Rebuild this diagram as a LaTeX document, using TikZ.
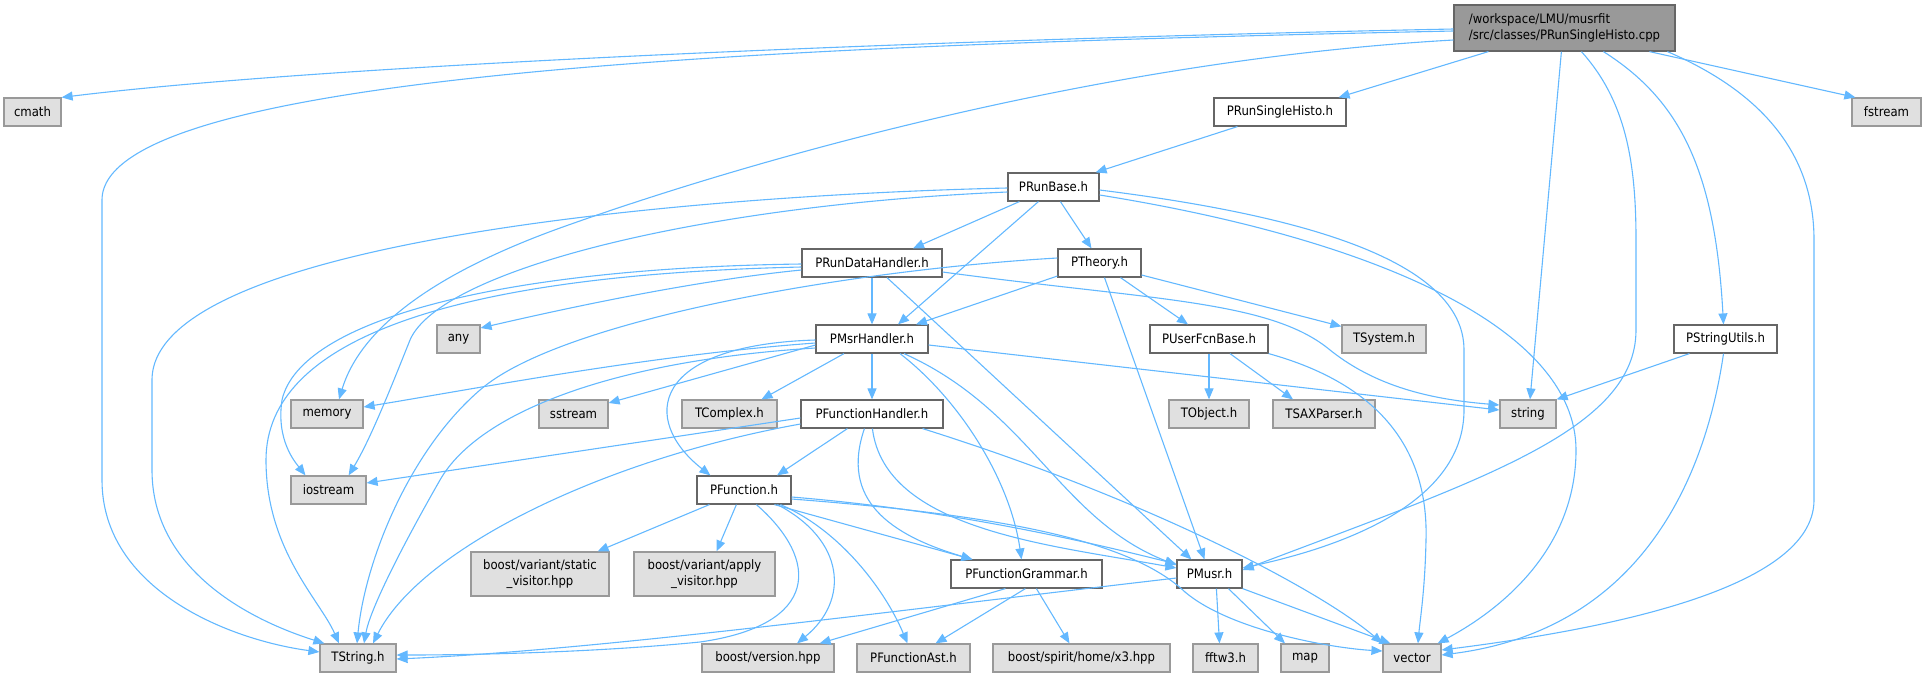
\documentclass[tikz,border=0pt]{standalone}
\usepackage{fontspec}
\setmainfont{DejaVu Sans Condensed}
\usetikzlibrary{arrows.meta}
\definecolor{edgeblue}{HTML}{63B8FF}
\definecolor{gfill}{HTML}{E0E0E0}
\definecolor{gline}{HTML}{999999}
\definecolor{dline}{HTML}{666666}
\definecolor{mfill}{HTML}{999999}
\tikzset{
  box/.style={draw, line width=1.2pt, minimum height=28pt, inner sep=0pt, font=\fontsize{13}{16}\selectfont, text=black, anchor=center},
  hdr/.style={box, fill=white, draw=dline},
  sys/.style={box, fill=gfill, draw=gline},
  cur/.style={box, fill=mfill, draw=dline},
  dep/.style={draw=edgeblue, line width=1.1pt, -{Triangle[length=11pt,width=9pt]}},
}
\begin{document}
\begin{tikzpicture}[x=1pt,y=-1pt]
\useasboundingbox (0,0) rectangle (1927,678);
% nodes
\node[cur, minimum width=221pt, minimum height=46pt, align=left] (main) at (1564.5,28) {/workspace/LMU/musrfit\\/src/classes/PRunSingleHisto.cpp};
\node[sys, minimum width=57pt] (cmath) at (32.5,112) {cmath};
\node[sys, minimum width=69pt] (fstream) at (1886.5,112) {fstream};
\node[hdr, minimum width=132pt] (rsh) at (1280,112) {PRunSingleHisto.h};
\node[hdr, minimum width=91pt] (rb) at (1053.5,187) {PRunBase.h};
\node[hdr, minimum width=140pt] (rdh) at (872,263) {PRunDataHandler.h};
\node[hdr, minimum width=83pt] (th) at (1099.5,263) {PTheory.h};
\node[sys, minimum width=43pt] (any) at (458.5,339) {any};
\node[hdr, minimum width=112pt] (msr) at (872,339) {PMsrHandler.h};
\node[hdr, minimum width=118pt] (ufb) at (1209,339) {PUserFcnBase.h};
\node[sys, minimum width=84pt] (tsys) at (1384,339) {TSystem.h};
\node[hdr, minimum width=103pt] (psu) at (1725.5,339) {PStringUtils.h};
\node[sys, minimum width=72pt] (memory) at (327,414) {memory};
\node[sys, minimum width=69pt] (sstream) at (573.5,414) {sstream};
\node[sys, minimum width=95pt] (tcx) at (729.5,414) {TComplex.h};
\node[hdr, minimum width=142pt] (pfh) at (872,414) {PFunctionHandler.h};
\node[sys, minimum width=80pt] (tobj) at (1209,414) {TObject.h};
\node[sys, minimum width=102pt] (tsax) at (1324,414) {TSAXParser.h};
\node[sys, minimum width=56pt] (string) at (1528,414) {string};
\node[sys, minimum width=75pt] (iostream) at (328.5,490) {iostream};
\node[hdr, minimum width=94pt] (pf) at (744,490) {PFunction.h};
\node[sys, minimum width=138pt, minimum height=44pt, align=center] (bsv) at (540,574) {boost/variant/static\\\_visitor.hpp};
\node[sys, minimum width=141pt, minimum height=44pt, align=center] (bav) at (704.5,574) {boost/variant/apply\\\_visitor.hpp};
\node[hdr, minimum width=151pt] (pfg) at (1026.5,574) {PFunctionGrammar.h};
\node[hdr, minimum width=65pt] (pmusr) at (1209.5,574) {PMusr.h};
\node[sys, minimum width=76pt] (tstr) at (358,658) {TString.h};
\node[sys, minimum width=132pt] (bver) at (768,658) {boost/version.hpp};
\node[sys, minimum width=113pt] (pfa) at (913.5,658) {PFunctionAst.h};
\node[sys, minimum width=177pt] (bsp) at (1081.5,658) {boost/spirit/home/x3.hpp};
\node[sys, minimum width=65pt] (fftw) at (1225.5,658) {fftw3.h};
\node[sys, minimum width=48pt] (map) at (1305,658) {map};
\node[sys, minimum width=58pt] (vector) at (1412,658) {vector};
% edges from main
\draw[dep] ([yshift=-1pt]main.west) .. controls (1000,38) and (350,62) .. (cmath.north east);
\draw[dep] ([yshift=-3pt]main.west) .. controls (800,45) and (102,70) .. (102,200) -- (102,480) .. controls (102,590) and (230,640) .. ([yshift=6pt]tstr.west);
\draw[dep] ([yshift=-12pt]main.west) .. controls (1100,60) and (750,160) .. (560,228) .. controls (430,275) and (360,330) .. ([xshift=12pt]memory.north);
\draw[dep] ([xshift=35pt]main.south west) -- ([xshift=-8pt]rsh.north east);
\draw[dep] ([xshift=108pt]main.south west) -- ([xshift=2pt]string.north);
\draw[dep] ([xshift=128pt]main.south west) .. controls (1625,100) and (1636,160) .. (1636,240) -- (1636,330) .. controls (1636,430) and (1480,480) .. ([yshift=4pt]pmusr.east);
\draw[dep] ([xshift=150pt]main.south west) .. controls (1680,100) and (1715,170) .. ([xshift=-2pt]psu.north);
\draw[dep] ([xshift=196pt]main.south west) -- ([xshift=4pt]fstream.north west);
\draw[dep] ([xshift=214pt]main.south west) .. controls (1780,100) and (1814,170) .. (1814,240) -- (1814,500) .. controls (1814,590) and (1600,630) .. ([yshift=8pt]vector.east);
% PRunSingleHisto
\draw[dep] ([xshift=24pt]rsh.south west) -- ([xshift=-4pt]rb.north east);
% PRunBase
\draw[dep] ([xshift=12pt]rb.south west) -- ([xshift=41pt]rdh.north);
\draw[dep] ([xshift=31pt]rb.south west) -- ([xshift=26pt]msr.north);
\draw[dep] ([xshift=53pt]rb.south west) -- ([xshift=-8pt]th.north);
\draw[dep] ([yshift=-1pt]rb.west) .. controls (700,195) and (152,240) .. (152,380) -- (152,470) .. controls (152,570) and (250,620) .. ([xshift=5pt]tstr.north west);
\draw[dep] ([yshift=-5pt]rb.west) .. controls (700,205) and (440,270) .. (410,340) .. controls (390,390) and (370,440) .. ([xshift=-18pt]iostream.north east);
\draw[dep] ([yshift=-3pt]rb.east) .. controls (1300,215) and (1464,260) .. (1464,350) -- (1464,410) .. controls (1464,500) and (1350,545) .. ([yshift=6pt]pmusr.east);
\draw[dep] ([yshift=-8pt]rb.east) .. controls (1380,240) and (1576,330) .. (1576,450) .. controls (1576,550) and (1500,610) .. ([xshift=-4pt]vector.north east);
% PRunDataHandler
\draw[dep] ([yshift=-7pt]rdh.west) .. controls (700,280) and (580,305) .. ([yshift=11pt]any.east);
\draw[dep] ([yshift=-1pt]rdh.west) .. controls (500,268) and (300,320) .. (282,400) .. controls (276,440) and (295,462) .. ([xshift=-23pt]iostream.north);
\draw[dep] ([yshift=-4pt]rdh.west) .. controls (450,275) and (266,340) .. (266,460) .. controls (266,550) and (320,600) .. ([xshift=-19pt]tstr.north);
\draw[dep] (rdh.south) -- (msr.north);
\draw[dep] ([xshift=15pt]rdh.south) -- ([xshift=15pt]pmusr.north west);
\draw[dep] ([yshift=-9pt]rdh.east) .. controls (1150,300) and (1270,300) .. (1330,350) .. controls (1380,390) and (1440,400) .. ([yshift=9pt]string.west);
% PTheory
\draw[dep] ([yshift=-13pt]th.west) -- ([xshift=44pt]msr.north);
\draw[dep] ([yshift=5pt]th.west) .. controls (850,270) and (560,320) .. (480,390) .. controls (410,450) and (365,560) .. ([xshift=-1pt]tstr.north);
\draw[dep] ([xshift=21pt]th.south) -- ([xshift=-21pt]ufb.north);
\draw[dep] ([yshift=-12pt]th.east) -- ([yshift=-2pt]tsys.north west);
\draw[dep] ([xshift=5pt]th.south) -- ([xshift=-5pt]pmusr.north);
% PMsrHandler
\draw[dep] ([yshift=-1pt]msr.west) .. controls (650,345) and (640,420) .. ([xshift=14pt]pf.north west);
\draw[dep] ([yshift=-4pt]msr.west) .. controls (650,355) and (480,388) .. ([yshift=7pt]memory.east);
\draw[dep] ([yshift=-6pt]msr.west) -- ([yshift=11pt]sstream.east);
\draw[dep] ([yshift=-9pt]msr.west) .. controls (620,360) and (480,410) .. (440,480) .. controls (400,550) and (370,610) .. ([xshift=6pt]tstr.north);
\draw[dep] ([xshift=-28pt]msr.south) -- ([xshift=32pt]tcx.north);
\draw[dep] (msr.south) -- (pfh.north);
\draw[dep] ([xshift=28pt]msr.south) .. controls (960,400) and (1010,480) .. ([xshift=-5pt]pfg.north);
\draw[dep] ([xshift=32pt]msr.south) .. controls (1030,410) and (1060,520) .. ([yshift=9pt]pmusr.west);
\draw[dep] ([yshift=-6pt]msr.east) -- ([yshift=4pt]string.west);
% PUserFcnBase
\draw[dep] (ufb.south) -- (tobj.north);
\draw[dep] ([xshift=21pt]ufb.south) -- ([xshift=-31pt]tsax.north);
\draw[dep] (ufb.south east) .. controls (1400,390) and (1428,470) .. (1426,540) .. controls (1425,590) and (1420,620) .. ([xshift=6pt]vector.north);
% PStringUtils
\draw[dep] ([xshift=16pt]psu.south west) -- (string.north east);
\draw[dep] ([xshift=-2pt]psu.south) .. controls (1705,480) and (1640,630) .. ([yshift=3pt]vector.east);
% PFunctionHandler
\draw[dep] ([yshift=-4pt]pfh.west) -- ([yshift=7pt]iostream.east);
\draw[dep] ([yshift=-10pt]pfh.west) .. controls (600,460) and (420,550) .. ([xshift=15pt]tstr.north);
\draw[dep] ([xshift=47pt]pfh.south west) -- ([xshift=33pt]pf.north);
\draw[dep] ([xshift=64pt]pfh.south west) .. controls (840,500) and (890,535) .. ([xshift=22pt]pfg.north west);
\draw[dep] ([xshift=72pt]pfh.south west) .. controls (885,530) and (1050,545) .. ([yshift=6pt]pmusr.west);
\draw[dep] ([xshift=-21pt]pfh.south east) .. controls (1150,500) and (1320,590) .. (vector.north west);
% PFunction
\draw[dep] ([xshift=13pt]pf.south west) -- ([xshift=-12pt]bsv.north east);
\draw[dep] ([xshift=40pt]pf.south west) -- ([xshift=12pt]bav.north);
\draw[dep] ([xshift=60pt]pf.south west) .. controls (820,560) and (820,625) .. (700,642) .. controls (600,652) and (480,655) .. ([yshift=3pt]tstr.east);
\draw[dep] ([xshift=81pt]pf.south west) .. controls (845,540) and (850,600) .. ([xshift=29pt]bver.north);
\draw[dep] ([xshift=84pt]pf.south west) .. controls (840,530) and (885,590) .. ([xshift=-6pt]pfa.north);
\draw[dep] ([xshift=78pt]pf.south west) -- ([xshift=22pt]pfg.north west);
\draw[dep] ([yshift=-7pt]pf.east) .. controls (950,510) and (1080,540) .. ([yshift=10pt]pmusr.west);
\draw[dep] ([yshift=-9pt]pf.east) .. controls (1000,515) and (1130,540) .. (1185,592) .. controls (1230,630) and (1330,648) .. ([yshift=7pt]vector.west);
% PFunctionGrammar
\draw[dep] ([xshift=55pt]pfg.south west) -- ([xshift=-15pt]bver.north east);
\draw[dep] ([xshift=75pt]pfg.south west) -- ([xshift=22pt]pfa.north);
\draw[dep] ([xshift=86pt]pfg.south west) -- ([xshift=-12pt]bsp.north);
% PMusr
\draw[dep] ([yshift=-4pt]pmusr.west) .. controls (900,610) and (600,650) .. ([yshift=-1pt]tstr.east);
\draw[dep] ([xshift=40pt]pmusr.south west) -- ([xshift=-6pt]fftw.north);
\draw[dep] ([xshift=52pt]pmusr.south west) -- ([xshift=-20pt]map.north);
\draw[dep] (pmusr.south east) -- ([xshift=8pt]vector.north west);
\end{tikzpicture}
\end{document}
